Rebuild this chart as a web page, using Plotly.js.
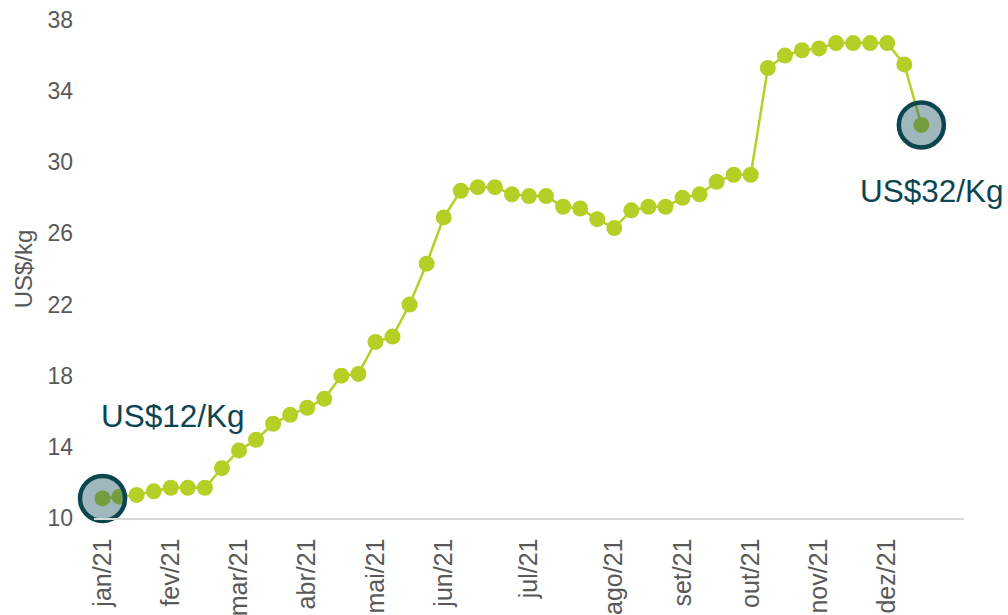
<!DOCTYPE html>
<html>
<head>
<meta charset="utf-8">
<script src="https://cdn.plot.ly/plotly-3.0.1.min.js"></script>
<style>html,body{margin:0;padding:0;background:#fff;}#chart{width:1008px;height:615px;}</style>
</head>
<body>
<div id="chart"></div>
<script>
// Weekly prices (US$/kg), 2021
const prices = [11.1, 11.2, 11.3, 11.5, 11.7, 11.7, 11.7, 12.8, 13.8, 14.4, 15.3, 15.8, 16.2, 16.7,
  18.0, 18.1, 19.9, 20.2, 22.0, 24.3, 26.9, 28.4, 28.6, 28.6, 28.2, 28.1, 28.1, 27.5,
  27.4, 26.8, 26.3, 27.3, 27.5, 27.5, 28.0, 28.2, 28.9, 29.3, 29.3, 35.3, 36.0, 36.3,
  36.4, 36.7, 36.7, 36.7, 36.7, 35.5, 32.1];
const monthLabels = ["jan/21", "fev/21", "mar/21", "abr/21", "mai/21", "jun/21", "jul/21", "ago/21", "set/21", "out/21", "nov/21", "dez/21"];
const monthWeekIndex = [0, 4, 8, 12, 16, 20, 25, 30, 34, 38, 42, 46];
const totalWeeks = 51;
const startLabel = "US$12/Kg";
const endLabel = "US$32/Kg";

const weeks = prices.map((_, i) => i);
const last = prices.length - 1;

const green = "#b6cf26";
const teal = "#0b4650";

const traces = [
  {
    x: weeks, y: prices, type: "scatter", mode: "lines+markers",
    line: {color: green, width: 2.5},
    marker: {color: green, size: 16},
    cliponaxis: false, hoverinfo: "x+y"
  },
  {
    x: [weeks[0], weeks[last]], y: [prices[0], prices[last]],
    type: "scatter", mode: "markers",
    marker: {color: "rgba(28,86,98,0.42)", size: 45, line: {color: teal, width: 4.5}},
    cliponaxis: false, hoverinfo: "skip"
  }
];

const font = "Liberation Sans, Arial, sans-serif";

const layout = {
  width: 1008, height: 615,
  margin: {l: 94, r: 44, t: 20, b: 97},
  paper_bgcolor: "#ffffff", plot_bgcolor: "#ffffff",
  showlegend: false,
  font: {family: font, color: "#595959"},
  xaxis: {
    type: "linear", range: [-0.5, totalWeeks - 0.5],
    tickvals: monthWeekIndex, ticktext: monthLabels,
    tickangle: -90, tickfont: {size: 25, color: "#595959", family: font},
    showgrid: false, zeroline: false, showline: true, linecolor: "#d9d9d9", linewidth: 1.5,
    ticks: "", ticklabelstandoff: 9, fixedrange: true
  },
  yaxis: {
    range: [10, 38], tickvals: [10, 14, 18, 22, 26, 30, 34, 38],
    tickfont: {size: 23, color: "#595959", family: font},
    showgrid: false, zeroline: false, showline: false, ticks: "",
    ticklabelstandoff: 20,
    title: {text: "US$/kg", font: {size: 24, color: "#595959", family: font}, standoff: 8},
    fixedrange: true
  },
  annotations: [
    {x: weeks[0], y: prices[0], xref: "x", yref: "y", text: startLabel, showarrow: false,
      xanchor: "left", yanchor: "middle", xshift: -4, yshift: 82,
      font: {size: 31.5, color: teal, family: font}},
    {x: weeks[last], y: prices[last], xref: "x", yref: "y", text: endLabel, showarrow: false,
      xanchor: "center", yanchor: "middle", xshift: 11, yshift: -66,
      font: {size: 31.5, color: teal, family: font}}
  ]
};

Plotly.newPlot("chart", traces, layout, {displayModeBar: false, staticPlot: true});
</script>
</body>
</html>
